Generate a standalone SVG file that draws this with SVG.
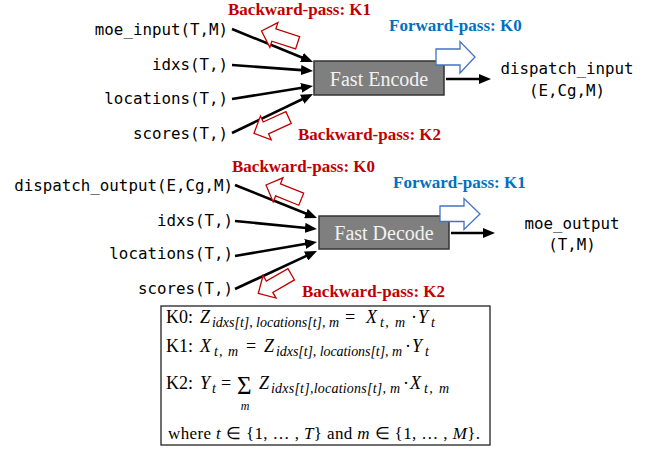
<svg xmlns="http://www.w3.org/2000/svg" width="650" height="449" viewBox="0 0 650 449">
<style>
.mono{font-family:"DejaVu Sans Mono","Liberation Mono",monospace;font-size:15.8px;fill:#000}
.red{font-family:"Liberation Serif","Times New Roman",serif;font-size:17px;font-weight:bold;fill:#C00000}
.blue{font-family:"Liberation Serif","Times New Roman",serif;font-size:17px;font-weight:bold;fill:#0070C0}
.boxt{font-family:"Liberation Serif","Times New Roman",serif;font-size:20px;fill:#F2F2F2}
.box{fill:#7F7F7F;stroke:#333;stroke-width:1.5}
.conn{stroke:#000;stroke-width:2.6;fill:none}
.harr{fill:#fff;stroke:#C00000;stroke-width:1.3}
.barr{fill:#fff;stroke:#4472C4;stroke-width:1.3}
.f{font-family:"Liberation Serif","Times New Roman",serif;font-size:18px;fill:#000}
.it{font-style:italic}
.sub{font-family:"Liberation Serif","Times New Roman",serif;font-size:14px;font-style:italic;fill:#000}
.sig{font-family:"Liberation Serif","Times New Roman",serif;font-size:25px;fill:#000}
.msub{font-family:"Liberation Serif","Times New Roman",serif;font-size:12px;font-style:italic;fill:#000}
.where{font-family:"Liberation Serif","Times New Roman",serif;font-size:17px;fill:#000}
</style>
<defs>
<marker id="ah" markerUnits="userSpaceOnUse" markerWidth="12" markerHeight="10" refX="4" refY="5" orient="auto">
<path d="M0,0 L12,5 L0,10 z" fill="#000"/>
</marker>
<polygon id="hollow" points="0,0 -13,-13 -13,-6.5 -38,-6.5 -38,6.5 -13,6.5 -13,13"/>
</defs>

<g id="connectors">
<line class="conn" x1="232" y1="29" x2="305.6" y2="59" marker-end="url(#ah)"/>
<line class="conn" x1="232" y1="65" x2="305" y2="70.4" marker-end="url(#ah)"/>
<line class="conn" x1="232" y1="99" x2="305.1" y2="87.3" marker-end="url(#ah)"/>
<line class="conn" x1="232" y1="133" x2="305.8" y2="97.5" marker-end="url(#ah)"/>
<line class="conn" x1="446" y1="79" x2="483" y2="79" marker-end="url(#ah)"/>
<line class="conn" x1="235" y1="185" x2="309.6" y2="215" marker-end="url(#ah)"/>
<line class="conn" x1="235" y1="221" x2="309" y2="228.2" marker-end="url(#ah)"/>
<line class="conn" x1="235" y1="256" x2="309.1" y2="243.3" marker-end="url(#ah)"/>
<line class="conn" x1="235" y1="289" x2="309.7" y2="254.4" marker-end="url(#ah)"/>
<line class="conn" x1="451" y1="233" x2="487" y2="233" marker-end="url(#ah)"/>
</g>

<g id="encode-inputs">
<text class="mono" x="228" y="35" text-anchor="end">moe_input(T,M)</text>
<text class="mono" x="228" y="70" text-anchor="end">idxs(T,)</text>
<text class="mono" x="228" y="104" text-anchor="end">locations(T,)</text>
<text class="mono" x="228" y="139" text-anchor="end">scores(T,)</text>
</g>

<g id="fast-encode">
<rect class="box" x="314" y="61" width="130" height="34"/>
<text class="boxt" x="379" y="86" text-anchor="middle">Fast Encode</text>
</g>

<g id="encode-output">
<text class="mono" x="567" y="74" text-anchor="middle">dispatch_input</text>
<text class="mono" x="567" y="96" text-anchor="middle">(E,Cg,M)</text>
</g>

<g id="encode-passes">
<use href="#hollow" class="harr" transform="translate(261.5,31) rotate(198)"/>
<use href="#hollow" class="harr" transform="translate(254,133.3) rotate(155.5)"/>
<polygon class="barr" points="436,49 460,49 460,41.5 475,57 460,73 460,65 436,65"/>
<text class="red" x="228" y="15">Backward-pass: K1</text>
<text class="red" x="298" y="140">Backward-pass: K2</text>
<text class="blue" x="389" y="31">Forward-pass: K0</text>
</g>

<g id="decode-inputs">
<text class="mono" x="233" y="191" text-anchor="end">dispatch_output(E,Cg,M)</text>
<text class="mono" x="233" y="226" text-anchor="end">idxs(T,)</text>
<text class="mono" x="233" y="259" text-anchor="end">locations(T,)</text>
<text class="mono" x="233" y="294" text-anchor="end">scores(T,)</text>
</g>

<g id="fast-decode">
<rect class="box" x="319" y="216" width="130" height="33"/>
<text class="boxt" x="384" y="240" text-anchor="middle">Fast Decode</text>
</g>

<g id="decode-output">
<text class="mono" x="572" y="229" text-anchor="middle">moe_output</text>
<text class="mono" x="572" y="250" text-anchor="middle">(T,M)</text>
</g>

<g id="decode-passes">
<use href="#hollow" class="harr" transform="translate(266,185) rotate(202)"/>
<use href="#hollow" class="harr" transform="translate(258.3,293.3) rotate(150)"/>
<polygon class="barr" points="440,206 464,206 464,198.5 480,214 464,229.5 464,221.5 440,221.5"/>
<text class="red" x="232" y="172">Backward-pass: K0</text>
<text class="red" x="302" y="297">Backward-pass: K2</text>
<text class="blue" x="393" y="188">Forward-pass: K1</text>
</g>

<g id="formulas">
<rect x="161" y="306" width="329" height="139" fill="#fff" stroke="#222" stroke-width="1.3"/>
<!-- K0 -->
<text class="f" x="166" y="323">K0:</text>
<text class="f it" x="200" y="323">Z</text>
<text class="sub" x="212" y="327" textLength="127" lengthAdjust="spacing">idxs[t], locations[t], m</text>
<text class="f" x="345" y="323">=</text>
<text class="f it" x="366" y="323">X</text>
<text class="sub" x="380" y="327" textLength="25" lengthAdjust="spacing">t, m</text>
<text class="f" x="411" y="323">·</text>
<text class="f it" x="418" y="323">Y</text>
<text class="sub" x="431" y="327">t</text>
<!-- K1 -->
<text class="f" x="166" y="352">K1:</text>
<text class="f it" x="200" y="352">X</text>
<text class="sub" x="214" y="356" textLength="24" lengthAdjust="spacing">t, m</text>
<text class="f" x="246" y="352">=</text>
<text class="f it" x="264" y="352">Z</text>
<text class="sub" x="276" y="356" textLength="126" lengthAdjust="spacing">idxs[t], locations[t], m</text>
<text class="f" x="405" y="352">·</text>
<text class="f it" x="412" y="352">Y</text>
<text class="sub" x="425" y="356">t</text>
<!-- K2 -->
<text class="f" x="166" y="389">K2:</text>
<text class="f it" x="200" y="389">Y</text>
<text class="sub" x="212" y="393">t</text>
<text class="f" x="221" y="389">=</text>
<text class="sig" x="237" y="394">Σ</text>
<text class="msub" x="245" y="410" text-anchor="middle">m</text>
<text class="f it" x="259" y="389">Z</text>
<text class="sub" x="271" y="393" textLength="129" lengthAdjust="spacing">idxs[t],locations[t], m</text>
<text class="f" x="403" y="389">·</text>
<text class="f it" x="410" y="389">X</text>
<text class="sub" x="424" y="393" textLength="25" lengthAdjust="spacing">t, m</text>
<!-- where -->
<text class="where" x="168" y="439" textLength="312" lengthAdjust="spacing">where <tspan class="it">t</tspan> ∈ {1, … , <tspan class="it">T</tspan>} and <tspan class="it">m</tspan> ∈ {1, … , <tspan class="it">M</tspan>}.</text>
</g>
</svg>
